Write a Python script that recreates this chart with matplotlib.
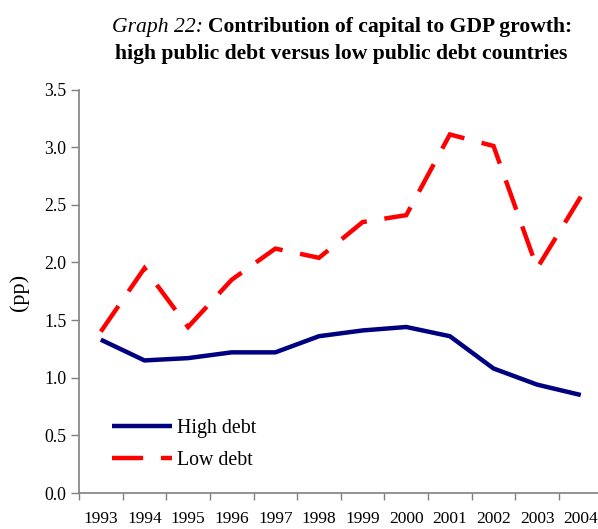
import numpy as np
import matplotlib
matplotlib.use("Agg")
import matplotlib.pyplot as plt

plt.rcParams['font.family'] = ['Liberation Serif', 'DejaVu Serif']

years = ["1993", "1994", "1995", "1996", "1997", "1998",
         "1999", "2000", "2001", "2002", "2003", "2004"]
high_debt = [1.33, 1.15, 1.17, 1.22, 1.22, 1.36, 1.41, 1.44, 1.36, 1.08, 0.94, 0.85]
low_debt = [1.40, 1.95, 1.44, 1.85, 2.12, 2.04, 2.35, 2.41, 3.11, 3.01, 1.95, 2.57]
yticks = [0.0, 0.5, 1.0, 1.5, 2.0, 2.5, 3.0, 3.5]

fig = plt.figure(figsize=(5.98, 5.29), dpi=100)
ax = fig.add_axes([79/598, 36/529, 523.6/598, 403.5/529])

x = np.arange(len(years))
ax.plot(x, high_debt, color="#000080", lw=3.2, label="High debt",
        solid_joinstyle="miter", solid_capstyle="butt")
ax.plot(x, low_debt, color="#FF0000", lw=3.2, dashes=(7, 4), label="Low debt",
        dash_joinstyle="miter", dash_capstyle="butt")

ax.set_xlim(-0.5, len(years) - 0.5)
ax.set_ylim(0, 3.5)
ax.set_yticks(yticks)
ax.set_yticklabels(["%.1f" % v for v in yticks])
ax.set_xticks(x)
ax.set_xticklabels(years)
ax.set_xticks(np.arange(len(years) + 1) - 0.5, minor=True)
ax.tick_params(axis="x", which="major", length=0, pad=13, labelsize=12.5)
ax.tick_params(axis="x", which="minor", length=5, color="#808080", width=1)
ax.tick_params(axis="y", length=6, color="#808080", width=1, labelsize=12.8, pad=3)

for s in ["top", "right"]:
    ax.spines[s].set_visible(False)
for s in ["left", "bottom"]:
    ax.spines[s].set_color("#808080")
    ax.spines[s].set_linewidth(1.2)

fig.text(19/598, 1 - 292/529, "(pp)", fontsize=16, rotation=90,
         ha="center", va="center")

leg = ax.legend(loc="center left", bbox_to_anchor=(0.063, 0.121), frameon=False,
                fontsize=14.3, handlelength=3.0, handletextpad=0.25, labelspacing=0.65,
                borderpad=0, borderaxespad=0)

# title: italic prefix + bold text
fig.canvas.draw()
r = fig.canvas.get_renderer()
t1 = fig.text(0, 1 - 32/529, "Graph 22: ", fontsize=15.6, style="italic")
t2 = fig.text(0, 1 - 32/529, "Contribution of capital to GDP growth:", fontsize=15.6, weight="bold")
w1 = t1.get_window_extent(r).width
w2 = t2.get_window_extent(r).width
x0 = (342 - (w1 + w2) / 2) / 598
t1.set_x(x0)
t2.set_x(x0 + w1 / 598)
fig.text(341/598, 1 - 59/529, "high public debt versus low public debt countries",
         fontsize=15.6, weight="bold", ha="center")

fig.savefig("out.png", dpi=100)
